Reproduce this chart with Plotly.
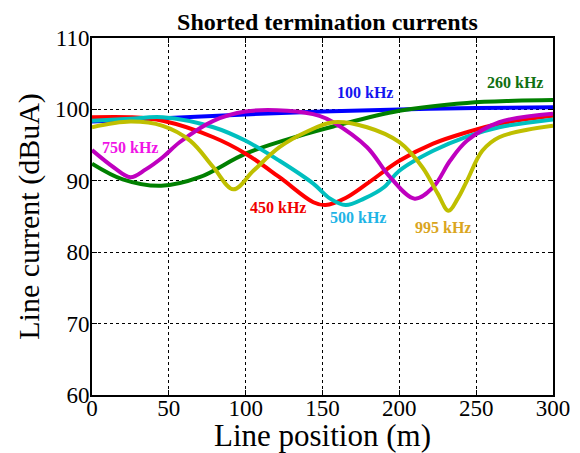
import plotly.graph_objects as go

# ---- data ----
x_100 = [0, 50, 100, 150, 200, 250, 300]
y_100 = [98.3, 98.8, 99.3, 99.7, 100.0, 100.2, 100.3]

x_260 = [0, 20, 45, 70, 100, 135, 157, 200, 244, 275, 300]
y_260 = [92.4, 90.2, 89.3, 90.5, 93.8, 96.3, 97.6, 99.8, 100.9, 101.2, 101.3]

x_450 = [0, 25, 46, 79, 100, 122, 144, 152, 165, 179, 200, 222, 244, 265, 300]
y_450 = [98.9, 98.9, 98.4, 96.1, 93.8, 90.5, 87.0, 86.6, 87.6, 89.6, 92.8, 95.2, 96.8, 98.0, 99.1]

x_500 = [0, 25, 46, 79, 100, 122, 144, 155, 165, 177, 190, 200, 222, 244, 265, 300]
y_500 = [98.4, 98.7, 98.9, 97.5, 95.6, 92.8, 89.6, 87.5, 86.6, 87.5, 89.1, 91.4, 94.2, 96.2, 97.5, 98.6]

x_750 = [0, 14, 25, 35, 46, 57, 79, 100, 127, 148, 157, 179, 194, 210, 222, 233, 244, 265, 300]
y_750 = [94.3, 91.9, 90.5, 91.6, 93.3, 95.4, 98.4, 99.7, 99.8, 99.1, 98.2, 94.7, 90.5, 87.5, 89.1, 92.8, 95.6, 98.2, 99.4]

x_995 = [0, 25, 46, 64, 79, 92, 105, 122, 140, 157, 179, 200, 215, 225, 232, 238, 244, 254, 265, 300]
y_995 = [97.5, 98.3, 97.7, 95.6, 91.9, 88.8, 91.4, 94.7, 96.9, 98.2, 97.5, 95.4, 91.9, 88.2, 85.8, 87.5, 90.0, 94.2, 96.1, 97.7]

series_names = ["100 kHz", "260 kHz", "450 kHz", "500 kHz", "750 kHz", "995 kHz"]
line_colors = ["#0000FF", "#008000", "#FF0000", "#00BFBF", "#BF00BF", "#BFBF00"]
label_colors = ["#1414F0", "#107010", "#F00000", "#1EB4E6", "#F014E6", "#DAA520"]
label_x = [177.6, 275, 121, 173, 24.7, 228.4]
label_y = [102.4, 103.7, 86.2, 84.8, 94.6, 83.5]

xs = [x_100, x_260, x_450, x_500, x_750, x_995]
ys = [y_100, y_260, y_450, y_500, y_750, y_995]

serif = "Liberation Serif, Times New Roman, serif"

fig = go.Figure()
for name, xv, yv, c in zip(series_names, xs, ys, line_colors):
    fig.add_trace(go.Scatter(x=xv, y=yv, mode="lines", name=name,
                             line=dict(color=c, width=4, shape="spline", smoothing=1.0),
                             showlegend=False))

for name, lx, ly, lc in zip(series_names, label_x, label_y, label_colors):
    fig.add_annotation(x=lx, y=ly, text="<b>%s</b>" % name, showarrow=False,
                       font=dict(family=serif, size=16, color=lc))

axis_common = dict(showline=True, linecolor="black", linewidth=2, mirror="allticks",
                   ticks="inside", ticklen=5, tickcolor="black", tickwidth=1,
                   showgrid=True, gridcolor="black", griddash="dot", gridwidth=1.3,
                   zeroline=False, tickfont=dict(family=serif, size=23, color="black"))

fig.update_xaxes(range=[0, 300], tickmode="array", tickvals=[0, 50, 100, 150, 200, 250, 300],
                 ticklabelstandoff=-9,
                 title=dict(text="Line position (m)", font=dict(family=serif, size=31, color="black"), standoff=4),
                 **axis_common)
fig.update_yaxes(range=[60, 110], tickmode="array", tickvals=[60, 70, 80, 90, 100, 110],
                 ticklabelstandoff=-4,
                 title=dict(text="Line current (dBuA)", font=dict(family=serif, size=30, color="black"), standoff=6),
                 **axis_common)

# page body has an 8px default margin, so the figure is 8px smaller and margins shifted
fig.update_layout(
    width=572, height=445,
    margin=dict(l=84, r=27, t=30, b=58, autoexpand=False),
    plot_bgcolor="white", paper_bgcolor="white",
    title=dict(text="<b>Shorted termination currents</b>", x=0.5585, xanchor="center",
               y=0.969, yanchor="middle", font=dict(family=serif, size=24, color="black")),
)

fig.write_html("out.html")
